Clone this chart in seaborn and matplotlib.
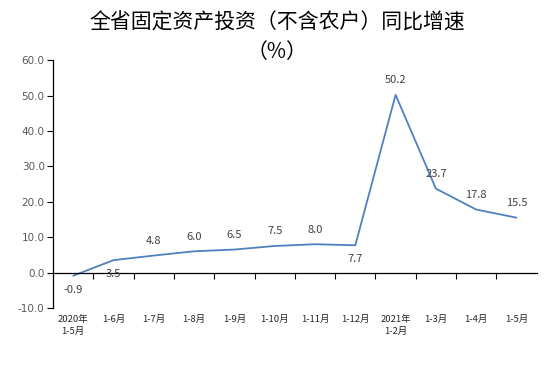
import seaborn as sns
import matplotlib.pyplot as plt
import matplotlib.transforms as mtransforms
import pandas as pd

categories = ["2020年\n1-5月", "1-6月", "1-7月", "1-8月", "1-9月", "1-10月",
              "1-11月", "1-12月", "2021年\n1-2月", "1-3月", "1-4月", "1-5月"]
growth = [-0.9, 3.5, 4.8, 6.0, 6.5, 7.5, 8.0, 7.7, 50.2, 23.7, 17.8, 15.5]
label_below = [True, True, False, False, False, False, False, True, False, False, False, False]

sns.set_style("ticks")
plt.rcParams['font.family'] = ['Noto Sans CJK SC', 'DejaVu Sans']

df = pd.DataFrame({"pos": range(len(categories)), "value": growth})

fig = plt.figure(figsize=(5.54, 3.76), dpi=100)
ax = fig.add_axes([0.0957, 0.181, 0.873, 0.659])

sns.lineplot(data=df, x="pos", y="value", ax=ax, color="#4f81bd", linewidth=1.3, sort=False)

ax.set_xlim(-0.5, len(categories) - 0.5)
ax.set_ylim(-10, 60)
ax.set_yticks(range(-10, 61, 10))
ax.set_yticklabels([f"{v:.1f}" for v in range(-10, 61, 10)], fontsize=7.5, color="#595959",
                   family=['DejaVu Sans'])
ax.tick_params(axis='y', left=True, direction='out', length=4, width=0.8, color="black", pad=2)

# x axis sits on zero, ticks between categories, labels at the bottom
ax.spines['bottom'].set_position(('data', 0))
ax.spines['top'].set_visible(False)
ax.spines['right'].set_visible(False)
for s in ['left', 'bottom']:
    ax.spines[s].set_color("black")
    ax.spines[s].set_linewidth(0.9)
ax.set_xticks([i + 0.5 for i in range(len(categories) - 1)])
ax.set_xticklabels([])
ax.tick_params(axis='x', bottom=True, direction='out', length=4, width=0.8, color="black")
ax.set_xlabel("")
ax.set_ylabel("")

trans = mtransforms.blended_transform_factory(ax.transData, ax.transAxes)
for i, lab in enumerate(categories):
    ax.text(i, -0.03, lab, transform=trans, ha='center', va='top', fontsize=6.8,
            color="#262626", linespacing=1.3)

for i, (v, below) in enumerate(zip(growth, label_below)):
    offset = -10 if below else 10.5
    ax.annotate(f"{v:.1f}", (i, v), xytext=(0, offset), textcoords='offset points',
                ha='center', va='center', fontsize=8, color="#404040")

fig.text(0.5, 0.94, "全省固定资产投资（不含农户）同比增速", ha='center', va='center',
         fontsize=15, color="black", fontweight='light')
fig.text(0.5, 0.862, "（%）", ha='center', va='center', fontsize=15, color="black",
         fontweight='light')

fig.savefig("out.png", dpi=100)
